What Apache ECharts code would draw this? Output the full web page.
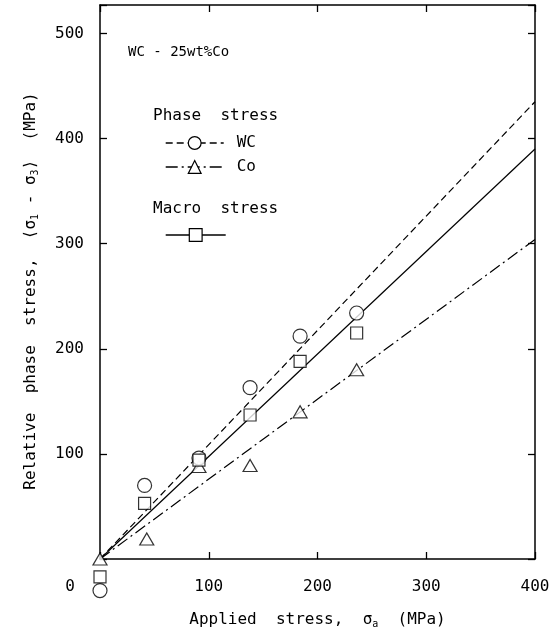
<!DOCTYPE html>
<html>
<head>
<meta charset="utf-8">
<script src="https://cdn.jsdelivr.net/npm/echarts@6/dist/echarts.min.js"></script>
<style>
  html, body { margin: 0; padding: 0; background: #fff; }
  #chart { width: 557px; height: 633px; }
</style>
</head>
<body>
<div id="chart"></div>
<script>
// Measured relative phase stress vs applied stress, WC-25wt%Co
const wcX = [0, 41, 91, 138, 184, 236];
const wcY = [-30, 70, 96, 163, 212, 234];
const macroX = [0, 41, 91, 138, 184, 236];
const macroY = [-17, 53, 94, 137, 188, 215];
const coX = [0, 43, 91, 138, 184, 236];
const coY = [0, 19, 88, 89, 140, 180];

// Trend lines: start and end points
const wcFitX = [0, 400];
const wcFitY = [0, 435];
const macroFitX = [0, 400];
const macroFitY = [0, 390];
const coFitX = [0, 400];
const coFitY = [0, 304];

// Tick labels
const xTickLabels = [0, 100, 200, 300, 400];
const yTickLabels = [100, 200, 300, 400, 500];

const FONT = 'DejaVu Sans Mono';
const pairs = (xs, ys) => xs.map((x, i) => [x, ys[i]]);

const frameLine = { show: true, onZero: false, lineStyle: { color: '#000', width: 1.5 } };
const frameTick = { show: true, inside: true, length: 7, lineStyle: { color: '#000', width: 1.3 } };
const hollow = { color: '#fff', borderColor: '#000', borderWidth: 1.2 };
const legendItem = { color: '#fff', borderColor: '#000', borderWidth: 1.2 };
const legendLine = { color: '#000', width: 1.4 };
const subRich = {
  s: { fontFamily: FONT, fontSize: 10, color: '#000', verticalAlign: 'bottom', padding: [8, 0, 0, 0] }
};

const chart = echarts.init(document.getElementById('chart'), null, { renderer: 'canvas' });

chart.setOption({
  animation: false,
  backgroundColor: '#fff',
  grid: { left: 100, right: 22, top: 5, bottom: 74, containLabel: false, outerBoundsMode: 'none' },
  xAxis: [
    {
      type: 'value', position: 'bottom', min: 0, max: 400, interval: 100,
      axisLine: frameLine, axisTick: frameTick, splitLine: { show: false },
      axisLabel: {
        margin: 20, color: '#000', fontFamily: FONT, fontSize: 16,
        formatter: v => v === 0 ? '{z|0}' : (xTickLabels.includes(v) ? String(v) : ''),
        rich: { z: { fontFamily: FONT, fontSize: 16, color: '#000', padding: [0, 60, 0, 0] } }
      },
      name: 'Applied  stress,  σ{s|a}  (MPa)',
      nameLocation: 'middle', nameGap: 52,
      nameTextStyle: { color: '#000', fontFamily: FONT, fontSize: 16, rich: subRich }
    },
    {
      type: 'value', position: 'top', min: 0, max: 400, interval: 100,
      axisLine: frameLine, axisTick: frameTick, splitLine: { show: false },
      axisLabel: { show: false }
    }
  ],
  yAxis: [
    {
      type: 'value', position: 'left', min: 0, max: 527, interval: 100,
      axisLine: frameLine, axisTick: frameTick, splitLine: { show: false },
      axisLabel: {
        margin: 16, color: '#000', fontFamily: FONT, fontSize: 16,
        formatter: v => yTickLabels.includes(v) ? String(v) : ''
      },
      name: 'Relative  phase  stress,  ⟨σ{s|1} - σ{s|3}⟩  (MPa)',
      nameLocation: 'middle', nameGap: 60,
      nameTextStyle: { color: '#000', fontFamily: FONT, fontSize: 16, rich: subRich, padding: [0, 18, 0, 0] }
    },
    {
      type: 'value', position: 'right', min: 0, max: 527, interval: 100,
      axisLine: frameLine, axisTick: frameTick, splitLine: { show: false },
      axisLabel: { show: false }
    }
  ],
  legend: [
    {
      data: ['WC', 'Co'], orient: 'vertical', left: 165, top: 135, padding: 0,
      itemWidth: 58, itemHeight: 16, itemGap: 8, selectedMode: false,
      itemStyle: legendItem, lineStyle: legendLine,
      textStyle: { color: '#000', fontFamily: FONT, fontSize: 16, padding: [0, 0, 0, 8] }
    },
    {
      data: ['Macro stress'], orient: 'vertical', left: 165, top: 227, padding: 0,
      itemWidth: 60, itemHeight: 16, selectedMode: false,
      itemStyle: legendItem, lineStyle: legendLine,
      formatter: () => ''
    }
  ],
  graphic: [
    { type: 'text', left: 128, top: 45, style: { text: 'WC - 25wt%Co', fill: '#000', font: '14px "DejaVu Sans Mono"' } },
    { type: 'text', left: 153, top: 108, style: { text: 'Phase  stress', fill: '#000', font: '16px "DejaVu Sans Mono"' } },
    { type: 'text', left: 153, top: 201, style: { text: 'Macro  stress', fill: '#000', font: '16px "DejaVu Sans Mono"' } }
  ],
  series: [
    {
      name: 'WC', type: 'line', data: pairs(wcFitX, wcFitY),
      symbol: 'circle', symbolSize: 13, showSymbol: false, itemStyle: hollow,
      lineStyle: { color: '#000', width: 1.2, type: [7, 4] }, z: 2, silent: true
    },
    {
      name: 'Co', type: 'line', data: pairs(coFitX, coFitY),
      symbol: 'triangle', symbolSize: 13, showSymbol: false, itemStyle: hollow,
      lineStyle: { color: '#000', width: 1.2, type: [12, 4, 2, 4] }, z: 2, silent: true
    },
    {
      name: 'Macro stress', type: 'line', data: pairs(macroFitX, macroFitY),
      symbol: 'rect', symbolSize: 12, showSymbol: false, itemStyle: hollow,
      lineStyle: { color: '#000', width: 1.2, type: 'solid' }, z: 2, silent: true
    },
    {
      name: 'WC points', type: 'scatter', data: pairs(wcX, wcY), clip: false,
      symbol: 'circle', symbolSize: 14, itemStyle: hollow, z: 4
    },
    {
      name: 'Macro points', type: 'scatter', data: pairs(macroX, macroY), clip: false,
      symbol: 'rect', symbolSize: 12, itemStyle: hollow, z: 5
    },
    {
      name: 'Co points', type: 'scatter', data: pairs(coX, coY), clip: false,
      symbol: 'triangle', symbolSize: [14, 12], itemStyle: hollow, z: 3
    }
  ]
});
</script>
</body>
</html>
